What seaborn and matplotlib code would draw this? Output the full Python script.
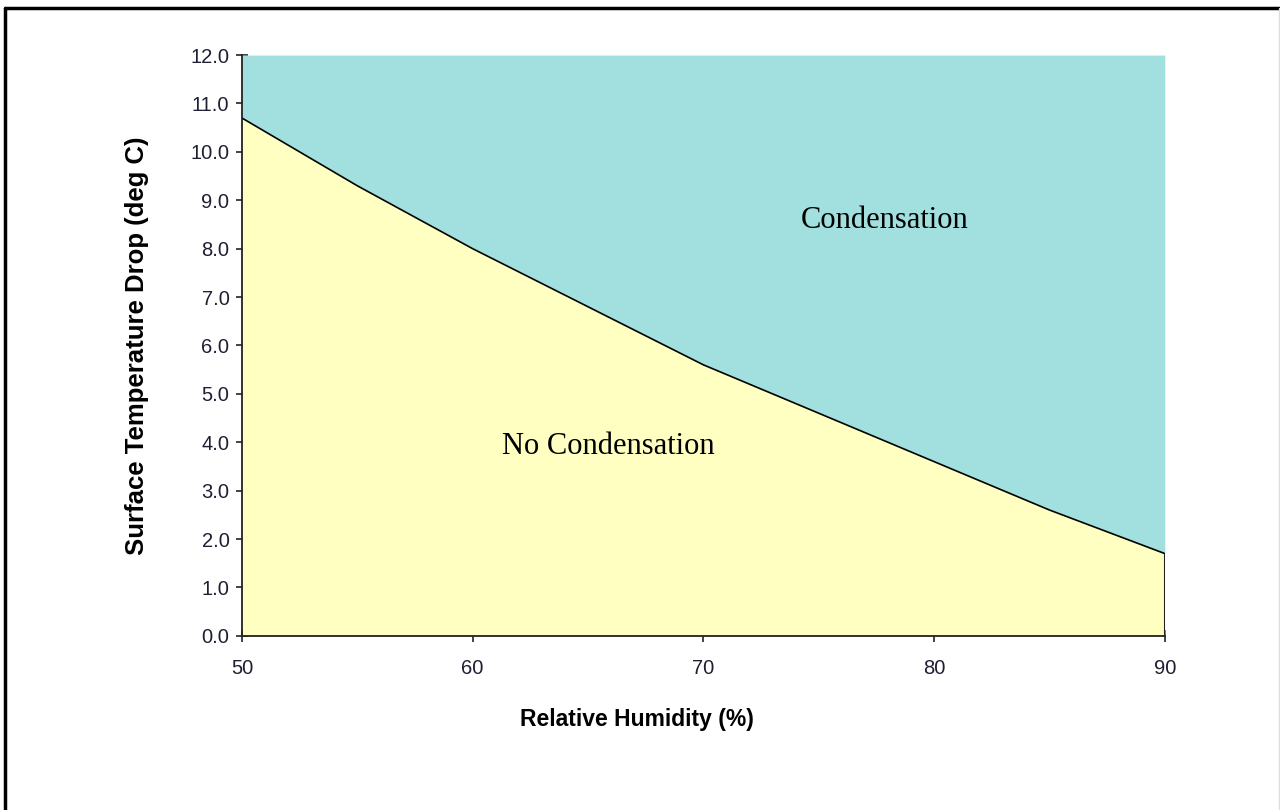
import matplotlib
matplotlib.use("Agg")
import matplotlib.pyplot as plt
import seaborn as sns
import pandas as pd
from matplotlib.lines import Line2D

# Data
humidity = [50, 55, 60, 65, 70, 75, 80, 85, 90]
temp_drop = [10.7, 9.3, 8.0, 6.8, 5.6, 4.6, 3.6, 2.6, 1.7]
x_ticks = [50, 60, 70, 80, 90]
y_ticks = [0, 1, 2, 3, 4, 5, 6, 7, 8, 9, 10, 11, 12]

df = pd.DataFrame({"RH": humidity, "Drop": temp_drop})

sns.set_style("white", {"xtick.bottom": True, "ytick.left": True})
plt.rcParams["font.family"] = ["Liberation Sans", "DejaVu Sans"]

fig = plt.figure(figsize=(12.8, 8.1), dpi=100)
ax = fig.add_axes([0.189, 0.215, 0.721, 0.717])

# Regions
ax.fill_between(df["RH"], df["Drop"], 12, color="#A2DFDF", linewidth=0)
ax.fill_between(df["RH"], 0, df["Drop"], color="#FFFFC2", linewidth=0)
sns.lineplot(data=df, x="RH", y="Drop", ax=ax, color="black", linewidth=1.2)
# right edge of the yellow area
ax.plot([humidity[-1], humidity[-1]], [0, temp_drop[-1]], color="#222222", linewidth=1.5)

ax.set_xlim(50, 90)
ax.set_ylim(0, 12)
ax.set_xticks(x_ticks)
ax.set_yticks(y_ticks)
ax.set_yticklabels([f"{v:.1f}" for v in y_ticks])

tick_col = "#1f1f33"
ax.tick_params(axis="both", labelsize=14.5, colors="#222222", labelcolor=tick_col,
               direction="inout", length=8, width=1.2)
ax.tick_params(axis="x", pad=13)
ax.tick_params(axis="y", pad=5)

for side in ["top", "right"]:
    ax.spines[side].set_visible(False)
for side in ["left", "bottom"]:
    ax.spines[side].set_color("#222222")
    ax.spines[side].set_linewidth(1.3)

ax.set_xlabel("Relative Humidity (%)", fontsize=16.5, fontweight="bold", color="black")
ax.xaxis.set_label_coords(0.428, -0.125)
ax.set_ylabel("Surface Temperature Drop (deg C)", fontsize=18.5, fontweight="bold",
              labelpad=30, color="black")

serif = ["Liberation Serif", "DejaVu Serif"]
ax.text(77.87, 8.59, "Condensation", fontsize=22, family=serif,
        ha="center", va="center", color="black")
ax.text(65.86, 3.92, "No Condensation", fontsize=22, family=serif,
        ha="center", va="center", color="black")

# Outer frame (top and left edges visible in the reference)
fig.add_artist(Line2D([0.004, 1.0], [0.99, 0.99], color="black", linewidth=2.5,
                      transform=fig.transFigure))
fig.add_artist(Line2D([0.004, 0.004], [0.0, 0.99], color="black", linewidth=2.5,
                      transform=fig.transFigure))
fig.add_artist(Line2D([0.999, 0.999], [0.0, 0.99], color="#dddddd", linewidth=1,
                      transform=fig.transFigure))

fig.savefig("out.png", dpi=100)
plt.close(fig)
